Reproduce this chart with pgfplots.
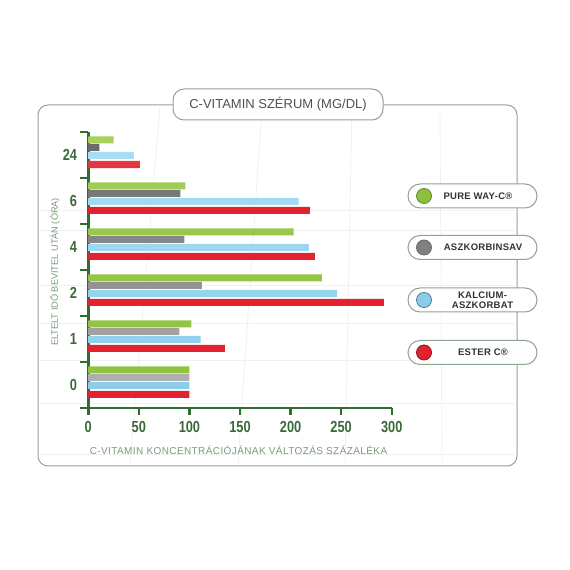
\documentclass[border=0pt]{standalone}
\usepackage{pgfplots}
\pgfplotsset{compat=1.18}
\usepackage{pgfplotstable}
\usepackage{fontspec}
\setmainfont{Liberation Sans}
\newfontfamily\tickfont[FakeStretch=0.8]{Liberation Sans}
\newfontfamily\xlabfont[LetterSpace=4]{Liberation Sans}
\newfontfamily\legfont[LetterSpace=3]{Liberation Sans}
\definecolor{axgreen}{HTML}{2F6E2F}
\definecolor{tickgreen}{HTML}{3A6A3A}
\definecolor{labgreen}{HTML}{7A9A7A}
\definecolor{framec}{HTML}{8FA38F}
\definecolor{gtop}{HTML}{BADB72}
\definecolor{gbot}{HTML}{8CC03E}
\definecolor{ktop}{HTML}{6A6A6A}
\definecolor{kbot}{HTML}{B0B0B0}
\definecolor{btop}{HTML}{A8DEF3}
\definecolor{bbot}{HTML}{8ACDEB}
\definecolor{rtop}{HTML}{F4A6AA}
\definecolor{rmid}{HTML}{E2232F}
\definecolor{rbot}{HTML}{C41A26}
\pgfdeclareverticalshading{redbar}{100bp}{color(0bp)=(rbot); color(25bp)=(rmid); color(70bp)=(rmid); color(100bp)=(rtop)}
\pgfdeclareverticalshading{greenbar}{100bp}{color(0bp)=(gbot); color(50bp)=(gbot!80!gtop); color(100bp)=(gtop)}

\pgfplotstableread{
y green grey blue red
0 100 100 100 100
1 102 90 111 135
2 231 112 246 293
3 203 95 218 224
4 96 91 208 219
5 25 11 45 51
}\data

\begin{document}
\begin{tikzpicture}[x=1pt,y=1pt]
\useasboundingbox (0,0) rectangle (570,570);
% faint background grid
\begin{scope}[black!6, line width=0.8pt]
\foreach \yy in {360,340,285,247,210,167,116} \draw (40,\yy) -- (515,\yy);
\draw (262,463) -- (238,106);
\draw (352,463) -- (345,106);
\draw (440,463) -- (442,106);
\draw (160,463) -- (130,106);
\end{scope}
% outer frame
\draw[framec, line width=1pt, rounded corners=10pt] (38,465) rectangle (517,104);
% title box
\node[draw=framec, line width=1pt, fill=white, rounded corners=11pt,
      minimum width=210pt, minimum height=31pt, inner sep=0pt] at (278,465.5)
      {\fontsize{13}{15}\selectfont\color[HTML]{505050}C-VITAMIN SZÉRUM (MG/DL)};

\begin{axis}[
  at={(88.3pt,162pt)}, anchor=south west,
  scale only axis, width=303.4pt, height=276pt,
  xmin=0, xmax=300, ymin=-0.5, ymax=5.5,
  axis x line=bottom, axis y line=left,
  axis line style={-, draw=axgreen, line width=2.4pt},
  tick align=outside,
  xtick={0,50,...,300},
  ytick={0,...,5}, yticklabels={0,1,2,4,6,24},
  minor ytick={-0.5,0.5,...,5.5},
  major tick length=7pt, minor tick length=8pt,
  tick style={draw=axgreen, line width=2.4pt},
  every major y tick/.append style={draw=none},
  ticklabel style={font=\tickfont\bfseries\fontsize{16}{16}\selectfont, text=tickgreen, inner sep=0pt},
  xticklabel style={yshift=-6pt},
  yticklabel style={xshift=-4pt},
  /pgf/number format/assume math mode=true,
  xlabel={\xlabfont\fontsize{10}{12}\selectfont C-VITAMIN KONCENTRÁCIÓJÁNAK VÁLTOZÁS SZÁZALÉKA},
  xlabel style={at={(axis description cs:0.495,0)}, anchor=center, yshift=-42pt, text=labgreen},
  ylabel={\fontsize{9.2}{11}\selectfont ELTELT IDŐ BEVITEL UTÁN (ÓRA)},
  ylabel style={at={(axis description cs:-0.11,0.493)}, anchor=center, text=labgreen},
  bar width=7pt,
  clip=false,
]
\addplot[xbar, bar shift=15pt, draw=none, shade, shading=greenbar] table[x=green,y=y]{\data};
\addplot[xbar, bar shift=7.5pt, draw=none, top color=ktop, bottom color=kbot] table[x=grey,y=y]{\data};
\addplot[xbar, bar shift=-0.5pt, draw=none, top color=btop, bottom color=bbot] table[x=blue,y=y]{\data};
\addplot[xbar, bar shift=-9.5pt, draw=none, shade, shading=redbar] table[x=red,y=y]{\data};
\end{axis}

% legend
\tikzset{lbox/.style={draw=framec, line width=1pt, fill=white, rounded corners=12pt,
      minimum width=129pt, minimum height=24pt, inner sep=0pt},
  ltxt/.style={font=\legfont\bfseries\fontsize{9.5}{10.5}\selectfont, text=black!80, align=center}}
\node[lbox] at (472.5,374) {};
\draw[draw=gbot!70!black, fill=gbot, line width=0.8pt] (424,374) circle (7.5);
\node[ltxt] at (478,374) {PURE WAY-C®};

\node[lbox] at (472.5,322.5) {};
\draw[draw=black!60, fill=black!50, line width=0.8pt] (424,322.5) circle (7.5);
\node[ltxt] at (483,322.5) {ASZKORBINSAV};

\node[lbox] at (472.5,270) {};
\draw[draw=bbot!60!black, fill=bbot, line width=0.8pt] (424,270) circle (7.5);
\node[ltxt] at (482.5,270) {KALCIUM-\\ASZKORBAT};

\node[lbox] at (472.5,217.5) {};
\draw[draw=rbot!70!black, fill=rmid, line width=0.8pt] (424,217.5) circle (7.5);
\node[ltxt] at (483,217.5) {ESTER C®};
\end{tikzpicture}
\end{document}
